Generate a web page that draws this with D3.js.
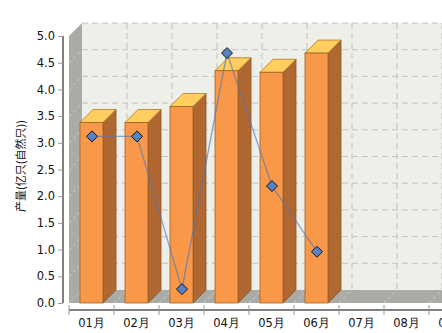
<!DOCTYPE html>
<html>
<head>
<meta charset="utf-8">
<script src="https://cdn.jsdelivr.net/npm/d3@7"></script>
<style>
  html, body { margin: 0; padding: 0; background: #fff; overflow: hidden; }
  svg { display: block; }
  text { font-family: "DejaVu Sans", Verdana, sans-serif; font-size: 11px; fill: #111; }
</style>
</head>
<body>
<svg id="chart" width="442" height="333"></svg>
<script>
// Months shown on the category axis
const months = ["01月", "02月", "03月", "04月", "05月", "06月", "07月", "08月", "09月", "10月", "11月", "12月"];
// Production (column series), null where no data yet
const output = [3.38, 3.38, 3.68, 4.35, 4.32, 4.68, null, null, null, null, null, null];
// Second series drawn as a line with diamond markers
const lineValues = [3.12, 3.12, 0.26, 4.68, 2.19, 0.96, null, null, null, null, null, null];
// Value axis ticks
const yTicks = [0, 0.5, 1, 1.5, 2, 2.5, 3, 3.5, 4, 4.5, 5];
const yTitle = "产量(亿只(自然只))";

const svg = d3.select("#chart");
const viewW = +svg.attr("width");

// 3D depth offset of the plot
const depth = 13;
const plotLeft = 69;
const step = 45;

const x = d3.scaleBand().domain(months).range([plotLeft, plotLeft + step * months.length]).padding(0);
const y = d3.scaleLinear().domain([0, 5]).range([303, 36]);
const plotRight = plotLeft + step * months.length;

const wallFill = "#EFEFE9";
const sideFill = "#A9ABA6";
const gridColor = "#C2C2BE";

// back wall
svg.append("rect")
  .attr("x", plotLeft + depth).attr("y", y(5) - depth)
  .attr("width", plotRight - plotLeft).attr("height", y(0) - y(5))
  .attr("fill", wallFill);

// horizontal grid lines on the back wall
svg.append("g").selectAll("line").data(yTicks.filter(d => d > 0)).join("line")
  .attr("x1", plotLeft + depth).attr("x2", plotRight + depth)
  .attr("y1", d => y(d) - depth).attr("y2", d => y(d) - depth)
  .attr("stroke", gridColor).attr("stroke-dasharray", "6,4");

// vertical grid lines at category boundaries
svg.append("g").selectAll("line").data(months.slice(1)).join("line")
  .attr("x1", d => x(d) + depth).attr("x2", d => x(d) + depth)
  .attr("y1", y(5) - depth).attr("y2", y(0) - depth)
  .attr("stroke", gridColor).attr("stroke-dasharray", "6,4");

// left side wall
svg.append("polygon")
  .attr("points", [[plotLeft, y(5)], [plotLeft + depth, y(5) - depth], [plotLeft + depth, y(0) - depth], [plotLeft, y(0)]].join(" "))
  .attr("fill", sideFill);
svg.append("g").selectAll("line").data(yTicks.filter(d => d > 0 && d < 5)).join("line")
  .attr("x1", plotLeft).attr("x2", plotLeft + depth)
  .attr("y1", d => y(d)).attr("y2", d => y(d) - depth)
  .attr("stroke", "#fff").attr("stroke-opacity", 0.45).attr("stroke-dasharray", "3,3");

// floor
svg.append("polygon")
  .attr("points", [[plotLeft, y(0)], [plotLeft + depth, y(0) - depth], [plotRight + depth, y(0) - depth], [plotRight, y(0)]].join(" "))
  .attr("fill", sideFill);
svg.append("g").selectAll("line").data(months.slice(1)).join("line")
  .attr("x1", d => x(d)).attr("x2", d => x(d) + depth)
  .attr("y1", y(0)).attr("y2", y(0) - depth)
  .attr("stroke", "#fff").attr("stroke-opacity", 0.45).attr("stroke-dasharray", "3,3");

// y axis
const yAxis = svg.append("g").attr("transform", "translate(63,0)")
  .call(d3.axisLeft(y).tickValues(yTicks).tickFormat(d3.format(".1f")).tickSize(5).tickPadding(3));
yAxis.select(".domain").attr("stroke", "#000").attr("d", `M0,${y(5)}V${y(0)}`);
yAxis.selectAll(".tick line").attr("stroke", "#999");
yAxis.selectAll(".tick text").attr("fill", "#111").style("font-size", "11.5px");

// x axis (only the categories that start inside the view get a label)
const xAxisY = 310;
const xAxis = svg.append("g");
xAxis.append("line").attr("x1", plotLeft).attr("x2", plotRight).attr("y1", xAxisY).attr("y2", xAxisY).attr("stroke", "#000");
xAxis.selectAll("line.tk").data(months).join("line").attr("class", "tk")
  .attr("x1", d => x(d)).attr("x2", d => x(d))
  .attr("y1", xAxisY - 5).attr("y2", xAxisY + 5).attr("stroke", "#999");
xAxis.selectAll("text").data(months.filter(m => x(m) < viewW)).join("text")
  .attr("x", d => x(d) + x.bandwidth() / 2).attr("y", 327)
  .attr("text-anchor", "middle").style("font-size", "11.5px")
  .text(d => d);

// 3D columns
const barW = 23;
const bars = svg.append("g").selectAll("g")
  .data(months.map((m, i) => ({ m, v: output[i] })).filter(d => d.v != null))
  .join("g");
bars.each(function (d) {
  const g = d3.select(this);
  const x0 = x(d.m) + (x.bandwidth() - barW) / 2;
  const x1 = x0 + barW;
  const yt = y(d.v), yb = y(0);
  g.append("polygon")
    .attr("points", [[x1, yt], [x1 + depth, yt - depth], [x1 + depth, yb - depth], [x1, yb]].join(" "))
    .attr("fill", "#B06731").attr("stroke", "#8A5520").attr("stroke-width", 0.8);
  g.append("polygon")
    .attr("points", [[x0, yt], [x0 + depth, yt - depth], [x1 + depth, yt - depth], [x1, yt]].join(" "))
    .attr("fill", "#FFCE5E").attr("stroke", "#A77A2A").attr("stroke-width", 0.8);
  g.append("rect")
    .attr("x", x0).attr("y", yt).attr("width", barW).attr("height", yb - yt)
    .attr("fill", "#F89848").attr("stroke", "#9C6328").attr("stroke-width", 0.8);
});

// line series
const pts = months.map((m, i) => ({ m, v: lineValues[i] })).filter(d => d.v != null);
const line = d3.line().x(d => x(d.m) + x.bandwidth() / 2 + 0.5).y(d => y(d.v));
svg.append("path").datum(pts)
  .attr("d", line).attr("fill", "none")
  .attr("stroke", "#4E77B4").attr("stroke-opacity", 0.65).attr("stroke-width", 1.3);

svg.append("g").selectAll("path").data(pts).join("path")
  .attr("transform", d => `translate(${x(d.m) + x.bandwidth() / 2 + 0.5},${y(d.v)})`)
  .attr("d", "M0,-5.5L5.5,0L0,5.5L-5.5,0Z")
  .attr("fill", "#5783C3").attr("stroke", "#111").attr("stroke-width", 1);

// y axis title
svg.append("text")
  .attr("transform", "translate(25,166) rotate(-90)")
  .attr("text-anchor", "middle")
  .style("font-family", "'Noto Sans CJK SC', sans-serif")
  .style("font-size", "11px")
  .text(yTitle);
</script>
</body>
</html>
